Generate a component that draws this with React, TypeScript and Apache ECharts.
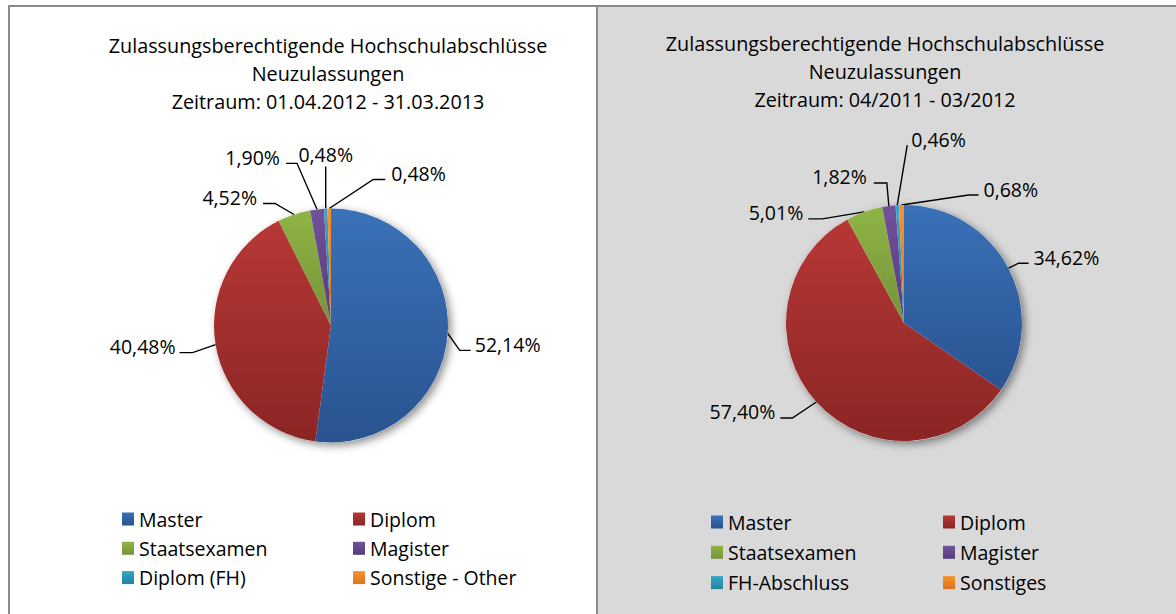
import React, { useEffect, useRef } from "react";
import * as echarts from "echarts";

// ---------- data ----------
const leftTitle = [
  "Zulassungsberechtigende Hochschulabschlüsse",
  "Neuzulassungen",
  "Zeitraum: 01.04.2012 - 31.03.2013",
];
const rightTitle = [
  "Zulassungsberechtigende Hochschulabschlüsse",
  "Neuzulassungen",
  "Zeitraum: 04/2011 - 03/2012",
];
const leftCategories = ["Master", "Diplom", "Staatsexamen", "Magister", "Diplom (FH)", "Sonstige - Other"];
const leftValues = [52.14, 40.48, 4.52, 1.9, 0.48, 0.48];
const rightCategories = ["Master", "Diplom", "Staatsexamen", "Magister", "FH-Abschluss", "Sonstiges"];
const rightValues = [34.62, 57.4, 5.01, 1.82, 0.46, 0.68];

// ---------- styles ----------
const FONT = "'Open Sans', 'Noto Sans', sans-serif";
const sliceColors: [string, string][] = [
  ["#3a71b8", "#2a5390"],
  ["#b73836", "#8a2524"],
  ["#8fb445", "#74933a"],
  ["#725199", "#573b7b"],
  ["#34a6c9", "#25829f"],
  ["#f8922f", "#da731e"],
];
const grad = (c: [string, string]) => ({
  type: "linear",
  x: 0,
  y: 0,
  x2: 0,
  y2: 1,
  colorStops: [
    { offset: 0, color: c[0] },
    { offset: 1, color: c[1] },
  ],
});

type Leader = { dx: number; dy: number; h: number; side: "left" | "right" | "top"; gap: number };
// leader geometry offsets relative to the slice's outer mid-point
const leftLeaders: Leader[] = [
  { dx: 23, dy: 17, h: 11, side: "right", gap: 4 },
  { dx: -36, dy: 8, h: 13, side: "left", gap: 4 },
  { dx: -31, dy: -11, h: 12, side: "left", gap: 6 },
  { dx: -31, dy: -46, h: 11, side: "left", gap: 6 },
  { dx: 0, dy: -42, h: 0, side: "top", gap: 5 },
  { dx: 56, dy: -29, h: 12, side: "right", gap: 6 },
];
const rightLeaders: Leader[] = [
  { dx: 20, dy: -5, h: 10, side: "right", gap: 5 },
  { dx: -36, dy: 16, h: 12, side: "left", gap: 5 },
  { dx: -56, dy: 7, h: 14, side: "left", gap: 5 },
  { dx: -15, dy: -23, h: 13, side: "left", gap: 7 },
  { dx: 10, dy: -60, h: 0, side: "right", gap: 4 },
  { dx: 77, dy: -10, h: 10, side: "right", gap: 5 },
];

const makeLayout = (leaders: Leader[]) => (p: any) => {
  const L = leaders[p.dataIndex];
  const pts = p.labelLinePoints;
  if (!L || !pts || !pts[0]) return {};
  const ex = pts[0][0];
  const ey = pts[0][1];
  const endX = ex + L.dx;
  const endY = ey + L.dy;
  if (L.side === "top") {
    return {
      x: endX,
      y: endY - L.gap - 7,
      align: "center",
      verticalAlign: "middle",
      labelLinePoints: [
        [ex, ey],
        [endX, endY],
        [endX, endY],
      ],
    };
  }
  const dir = L.side === "left" ? -1 : 1;
  return {
    x: endX + dir * L.gap,
    y: endY - 6,
    align: L.side === "left" ? "right" : "left",
    verticalAlign: "middle",
    labelLinePoints: [
      [ex, ey],
      [endX - dir * L.h, endY],
      [endX, endY],
    ],
  };
};

const fmt = (p: any) => p.value.toFixed(2).replace(".", ",") + "%";

const pieSeries = (cats: string[], vals: number[], center: number[], radius: number, leaders: Leader[]) => [
  {
    type: "pie",
    silent: true,
    center,
    radius,
    z: 1,
    data: [{ value: 1, name: "__shadow" }],
    label: { show: false },
    labelLine: { show: false },
    itemStyle: {
      color: "#ffffff",
      shadowBlur: 8,
      shadowOffsetX: 3,
      shadowOffsetY: 3,
      shadowColor: "rgba(0,0,0,0.45)",
    },
  },
  {
    type: "pie",
    center,
    radius,
    z: 2,
    startAngle: 90,
    clockwise: true,
    avoidLabelOverlap: false,
    data: cats.map((name, i) => ({
      name,
      value: vals[i],
      itemStyle: { color: grad(sliceColors[i]) },
    })),
    itemStyle: { borderWidth: 0 },
    label: {
      show: true,
      position: "outside",
      formatter: fmt,
      fontFamily: FONT,
      fontSize: 19.5,
      color: "#000",
    },
    labelLine: { show: true, lineStyle: { color: "#000", width: 1.4 } },
    labelLayout: makeLayout(leaders),
  },
];

const legendCol = (names: string[], left: number, top: number, gap: number) => ({
  orient: "vertical",
  left,
  top,
  padding: 0,
  data: names,
  icon: "rect",
  itemWidth: 12,
  itemHeight: 13,
  itemGap: gap,
  selectedMode: false,
  textStyle: { fontFamily: FONT, fontSize: 19.5, color: "#000", lineHeight: 20 },
});

export default function App() {
  const ref = useRef<HTMLDivElement>(null);
  useEffect(() => {
    if (!ref.current) return;
    const chart = echarts.init(ref.current, null, { renderer: "svg" });
    chart.setOption({
      animation: false,
      backgroundColor: "#ffffff",
      graphic: [
        {
          type: "rect",
          z: -10,
          shape: { x: 9, y: 6, width: 588, height: 700 },
          style: { fill: "#ffffff", stroke: "#8a8a8a", lineWidth: 2 },
        },
        {
          type: "rect",
          z: -10,
          shape: { x: 597, y: 6, width: 700, height: 700 },
          style: { fill: "#d9d9d9", stroke: "#8a8a8a", lineWidth: 2 },
        },
        {
          type: "text",
          x: 328,
          y: 31,
          style: {
            text: leftTitle.join("\n"),
            align: "center",
            verticalAlign: "top",
            font: `19.8px ${FONT}`,
            lineHeight: 28,
            fill: "#000",
          },
        },
        {
          type: "text",
          x: 885,
          y: 29,
          style: {
            text: rightTitle.join("\n"),
            align: "center",
            verticalAlign: "top",
            font: `19.8px ${FONT}`,
            lineHeight: 28,
            fill: "#000",
          },
        },
      ],
      legend: [
        legendCol([leftCategories[0], leftCategories[2], leftCategories[4]], 122, 509, 9.3),
        legendCol([leftCategories[1], leftCategories[3], leftCategories[5]], 353, 509, 9.3),
        legendCol([rightCategories[0], rightCategories[2], rightCategories[4]], 711, 512, 10.3),
        legendCol([rightCategories[1], rightCategories[3], rightCategories[5]], 943, 512, 10.3),
      ],
      series: [
        ...pieSeries(leftCategories, leftValues, [331, 325.5], 117, leftLeaders),
        ...pieSeries(rightCategories, rightValues, [904, 323], 118, rightLeaders),
      ],
    });
    return () => chart.dispose();
  }, []);
  return (
    <div
      ref={ref}
      style={{ position: "absolute", left: 0, top: 0, width: 1176, height: 614 }}
    />
  );
}
